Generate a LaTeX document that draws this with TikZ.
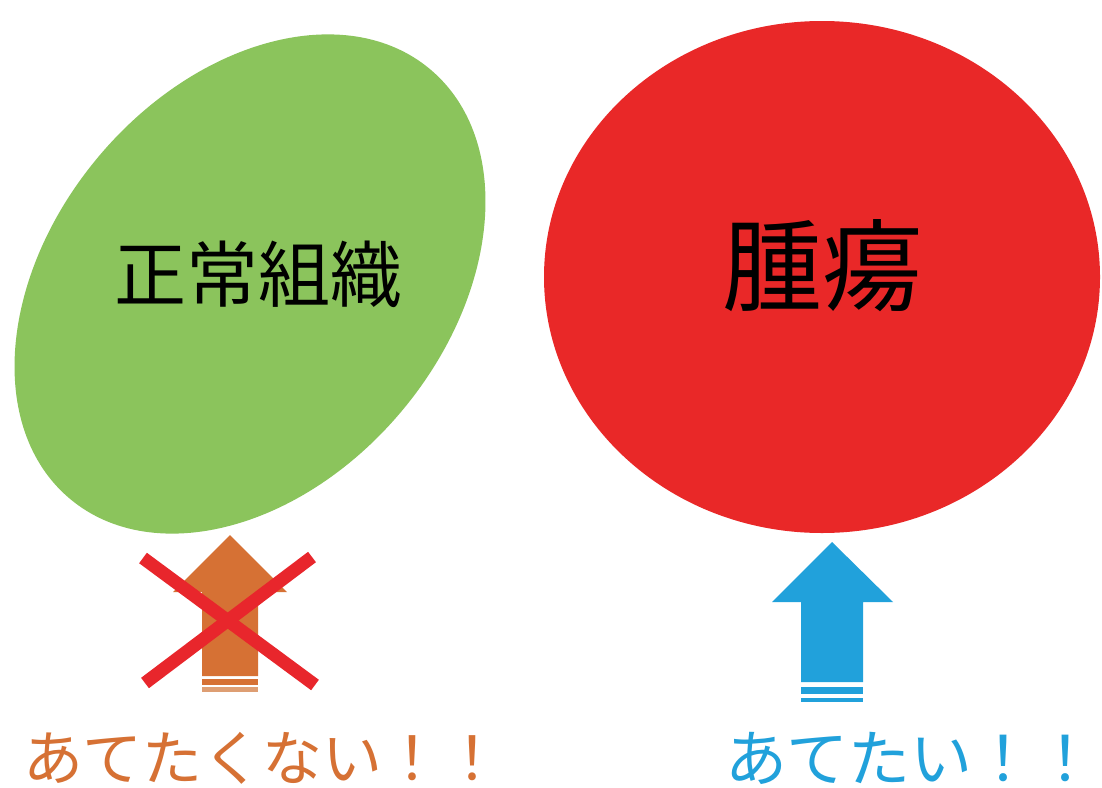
\documentclass[tikz,border=0pt]{standalone}
\usepackage{fontspec}
\newfontfamily\jpfont{Noto Sans CJK JP}
\usetikzlibrary{positioning,shapes.geometric}

\definecolor{tissuegreen}{RGB}{139,196,92}
\definecolor{tumorred}{RGB}{233,40,40}
\definecolor{beamorange}{RGB}{214,113,52}
\definecolor{beamblue}{RGB}{33,161,219}
\definecolor{crossred}{RGB}{232,38,44}

\tikzset{
  organ/.style={ellipse, inner sep=0pt, outer sep=0pt},
  jptext/.style={font=\jpfont\fontsize{#1}{#1}\selectfont, inner sep=0pt},
}

\begin{document}
\begin{tikzpicture}[x=0.5pt, y=0.5pt]
  \useasboundingbox[fill=white] (0,0) rectangle (1102,-787);
  % Target volumes
  \node[organ, fill=tissuegreen, rotate=50, minimum width=280.3pt, minimum height=197.9pt] (normal) at (250,-284) {};
  \node[organ, fill=tumorred, minimum width=278pt, minimum height=256pt] (tumor) at (822,-277) {};
  \node[jptext=36] (normallabel) at (258,-274) {正常組織};
  \node[jptext=50] (tumorlabel) at (822,-266) {腫瘍};
  % Beam arrows
  \fill[beamorange] (230,-535) -- (287,-592) -- (258,-592) -- (258,-676) -- (202,-676)
    -- (202,-592) -- (173,-592) -- cycle;
  \fill[beamorange] (202,-679) rectangle (258,-685);
  \fill[beamorange!75!brown!70!white] (202,-687) rectangle (258,-692);
  \fill[beamblue] (832,-542) -- (893,-602) -- (863,-602) -- (863,-682) -- (801,-682)
    -- (801,-602) -- (772,-602) -- cycle;
  \fill[beamblue] (801,-687) rectangle (863,-694);
  \fill[beamblue] (801,-698) rectangle (863,-702);
  % Cross over the orange beam
  \draw[crossred, line width=6.5pt] (143,-558) -- (315,-685);
  \draw[crossred, line width=6.5pt] (312,-557) -- (145,-683);
  % Captions
  \node[jptext=30, text=beamorange] (nogo) at (263,-758) {あてたくない！！};
  \node[jptext=31, text=beamblue] (go) at (911,-758) {あてたい！！};
\end{tikzpicture}
\end{document}
